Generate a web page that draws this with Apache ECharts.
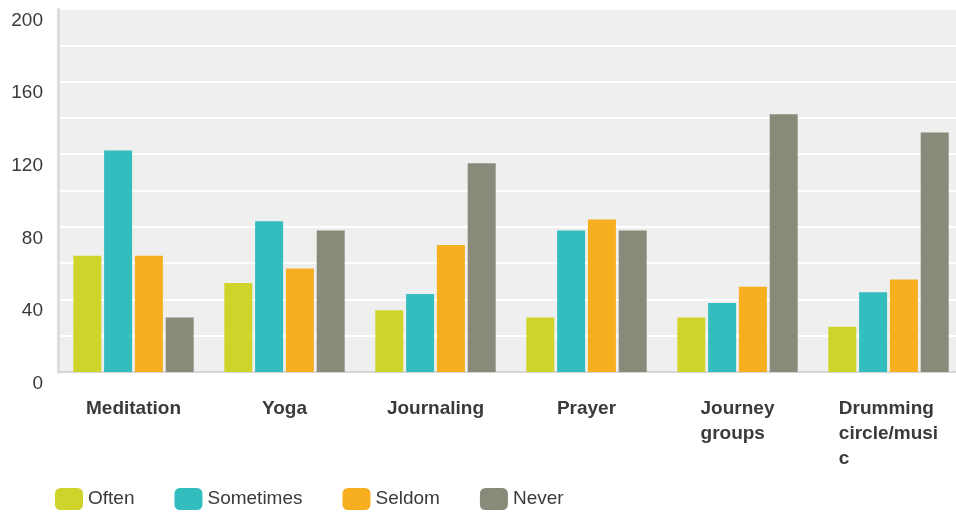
<!DOCTYPE html>
<html>
<head>
<meta charset="utf-8">
<script src="https://cdn.jsdelivr.net/npm/echarts@6/dist/echarts.min.js"></script>
<style>
  html, body { margin: 0; padding: 0; background: #ffffff; }
  #chart { width: 956px; height: 515px; }
</style>
</head>
<body>
<div id="chart"></div>
<script>
const categories = ['Meditation', 'Yoga', 'Journaling', 'Prayer', 'Journey groups', 'Drumming circle/music'];
const categoryTickLabels = ['Meditation', 'Yoga', 'Journaling', 'Prayer', 'Journey\ngroups', 'Drumming\ncircle/musi\nc'];
const seriesNames = ['Often', 'Sometimes', 'Seldom', 'Never'];
const often = [64, 49, 34, 30, 30, 25];
const sometimes = [122, 83, 43, 78, 38, 44];
const seldom = [64, 57, 70, 84, 47, 51];
const never = [30, 78, 115, 78, 142, 132];
const yTickLabels = [0, 40, 80, 120, 160, 200];

const colors = ['#CFD42A', '#33BDBF', '#F7AE1F', '#8A8A7A'];
const FONT = '"Liberation Sans", Arial, Helvetica, sans-serif';
const TEXT = '#3a3a3a';

const chart = echarts.init(document.getElementById('chart'), null, { renderer: 'canvas' });

const seriesData = [often, sometimes, seldom, never];

chart.setOption({
  animation: false,
  color: colors,
  textStyle: { fontFamily: FONT },
  grid: {
    left: 58, width: 906, top: 9, bottom: 143,
    outerBoundsMode: 'none',
    show: true, backgroundColor: '#efefef', borderWidth: 0,
    containLabel: false
  },
  legend: {
    data: seriesNames,
    left: 50, top: 483,
    icon: 'roundRect',
    itemWidth: 28, itemHeight: 22, itemGap: 40,
    textStyle: { fontSize: 19, color: TEXT, fontFamily: FONT }
  },
  xAxis: {
    type: 'category',
    data: categories,
    axisTick: { show: false },
    axisLine: { show: true, lineStyle: { color: '#d6d6d6', width: 2 } },
    axisLabel: {
      interval: 0,
      margin: 24,
      formatter: function (value, index) {
        return categoryTickLabels[index].split('\n').map(function (l) { return '{b|' + l + '}'; }).join('\n');
      },
      rich: {
        b: { fontSize: 19, fontWeight: 'bold', color: TEXT, fontFamily: FONT, lineHeight: 25, align: 'left' }
      }
    }
  },
  yAxis: {
    type: 'value',
    min: 0, max: 200, interval: 20,
    axisLine: { show: true, lineStyle: { color: '#dcdcdc', width: 3 } },
    axisTick: { show: false },
    splitLine: { show: true, lineStyle: { color: '#ffffff', width: 2 } },
    axisLabel: {
      margin: 15,
      fontSize: 19,
      color: TEXT,
      fontFamily: FONT,
      verticalAlign: 'top',
      padding: [2, 0, 0, 0],
      formatter: function (v) { return yTickLabels.indexOf(v) >= 0 ? String(v) : ''; }
    }
  },
  series: seriesNames.map(function (name, i) {
    return {
      name: name,
      type: 'bar',
      data: seriesData[i],
      barWidth: 28,
      barGap: '10%',
      itemStyle: { color: colors[i] }
    };
  })
});
</script>
</body>
</html>
